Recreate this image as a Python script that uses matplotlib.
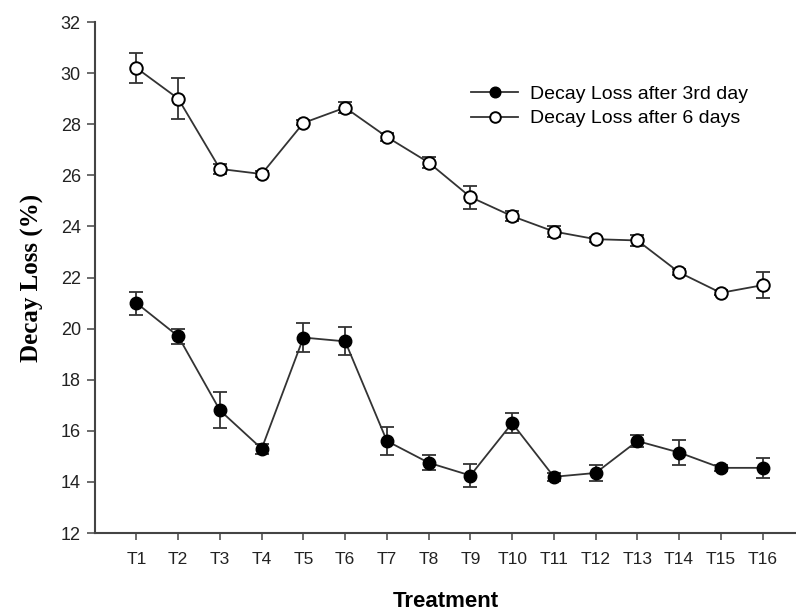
import matplotlib
matplotlib.use("Agg")
import matplotlib.pyplot as plt
import numpy as np

treatments = ["T%d" % i for i in range(1, 17)]
loss_3rd = [21.0, 19.7, 16.8, 15.3, 19.65, 19.5, 15.6, 14.75,
            14.25, 16.3, 14.2, 14.35, 15.6, 15.15, 14.55, 14.55]
err_3rd = [0.45, 0.3, 0.7, 0.2, 0.55, 0.55, 0.55, 0.3,
           0.45, 0.4, 0.15, 0.3, 0.25, 0.5, 0.12, 0.4]
loss_6 = [30.2, 29.0, 26.25, 26.05, 28.05, 28.65, 27.5, 26.5,
          25.15, 24.4, 23.8, 23.5, 23.45, 22.2, 21.4, 21.7]
err_6 = [0.6, 0.8, 0.2, 0.1, 0.1, 0.2, 0.15, 0.2,
         0.45, 0.2, 0.2, 0.1, 0.2, 0.12, 0.1, 0.5]

x = np.arange(1, len(treatments) + 1)

fig = plt.figure(figsize=(7.96, 6.13), dpi=100)
ax = fig.add_axes([0.119, 0.1305, 0.881, 0.8336])

line_col = "#333333"
# error bars first, lines + markers on top
ax.errorbar(x, loss_3rd, yerr=err_3rd, fmt="none", ecolor=line_col,
            elinewidth=1.3, capsize=5, capthick=1.3)
ax.errorbar(x, loss_6, yerr=err_6, fmt="none", ecolor=line_col,
            elinewidth=1.3, capsize=5, capthick=1.3)
ax.plot(x, loss_3rd, color=line_col, lw=1.3, marker="o", ms=9,
        mfc="black", mec="black", label="Decay Loss after 3rd day")
ax.plot(x, loss_6, color=line_col, lw=1.3, marker="o", ms=9,
        mfc="white", mec="black", mew=1.4, label="Decay Loss after 6 days")

ax.set_xlim(0, 16.8)
ax.set_ylim(12, 32)
ax.set_yticks(np.arange(12, 33, 2))
ax.set_xticks(x)
ax.set_xticklabels(treatments)

for s in ["top", "right"]:
    ax.spines[s].set_visible(False)
for s in ["left", "bottom"]:
    ax.spines[s].set_linewidth(1.5)
    ax.spines[s].set_color("#444444")
ax.tick_params(direction="out", length=5, width=1.1, colors="#444444",
               labelcolor="#222222")
ax.tick_params(axis="y", length=6, pad=4)
ax.tick_params(axis="x", pad=9)
for lab in ax.get_yticklabels():
    lab.set_fontfamily("Liberation Sans")
    lab.set_fontsize(13)
for lab in ax.get_xticklabels():
    lab.set_fontfamily("Liberation Sans")
    lab.set_fontsize(12.5)

ax.set_ylabel("Decay Loss (%)", fontfamily="Liberation Serif",
              fontweight="bold", fontsize=18, labelpad=12)
ax.set_xlabel("Treatment", fontfamily="Liberation Sans",
              fontweight="bold", fontsize=16, labelpad=17)

leg = ax.legend(loc="upper left", bbox_to_anchor=(0.537, 0.876), frameon=False,
                prop={"family": "Liberation Sans", "size": 14},
                borderpad=0, borderaxespad=0,
                handlelength=2.4, handletextpad=0.6, labelspacing=0.35,
                markerscale=0.85)

fig.savefig("out.png", dpi=100)
